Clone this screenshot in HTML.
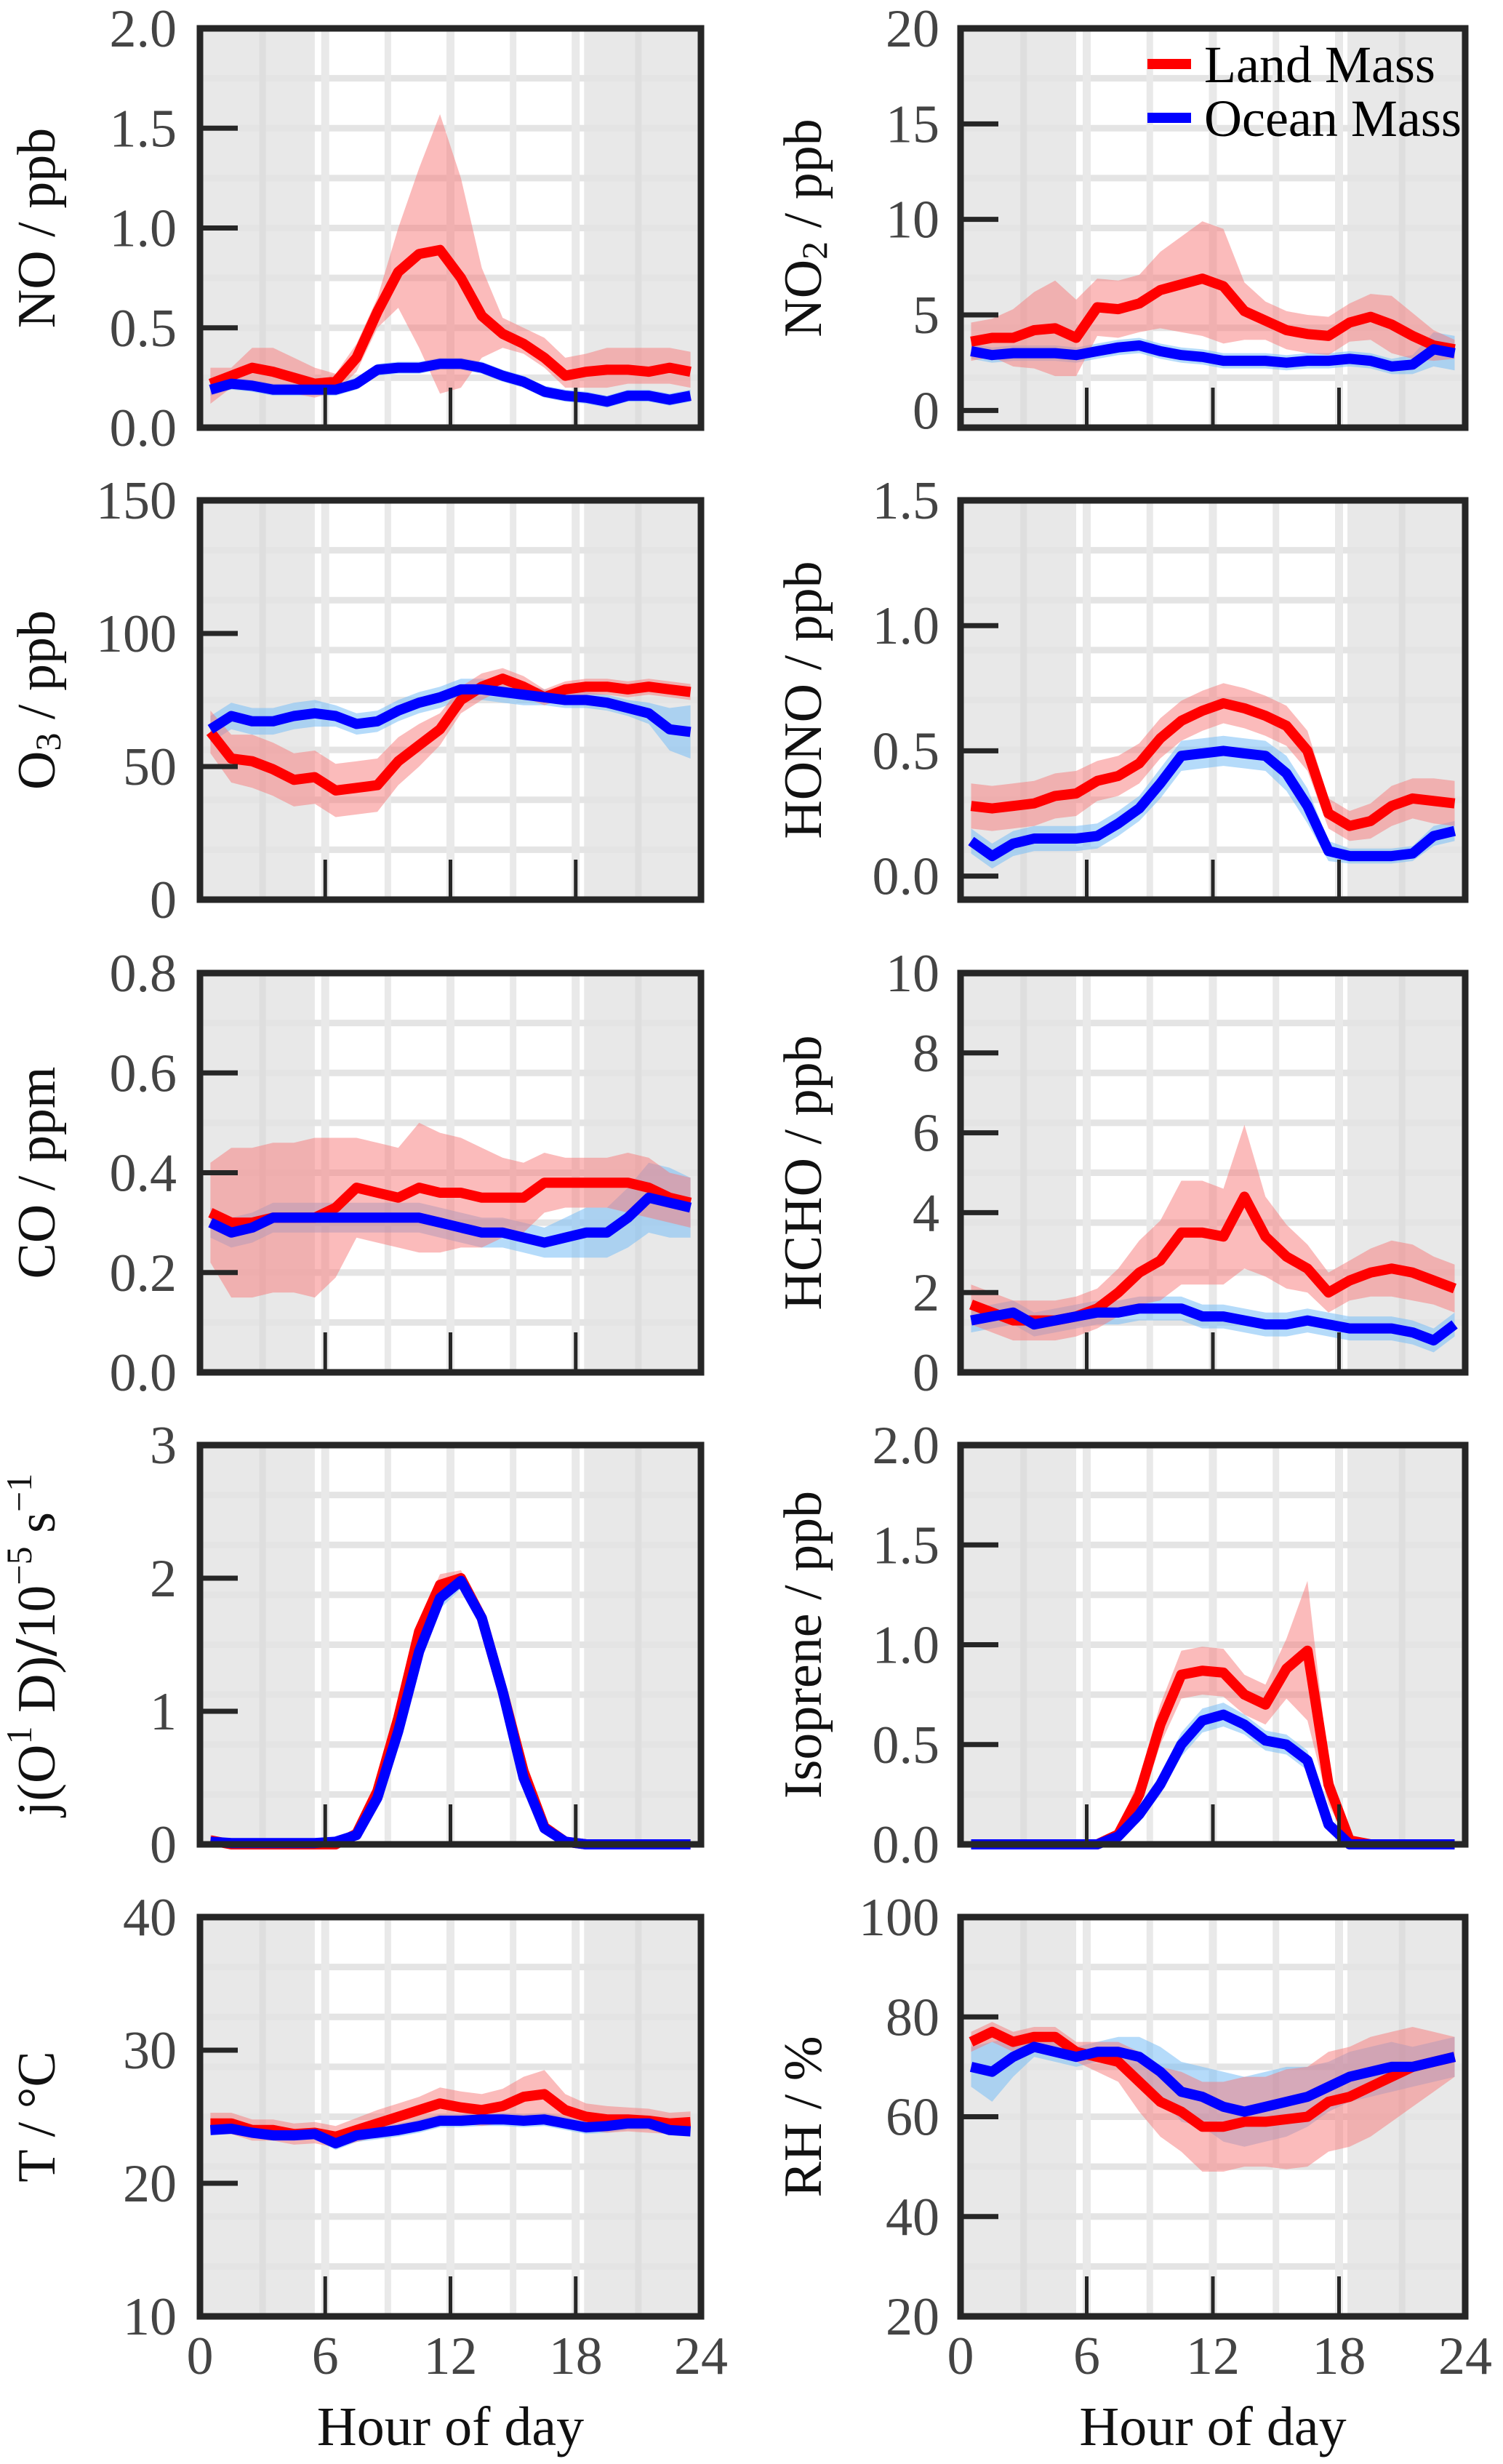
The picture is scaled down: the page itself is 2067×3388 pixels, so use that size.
<!DOCTYPE html>
<html><head><meta charset="utf-8">
<style>
html,body{margin:0;padding:0;background:#fff;}
svg{display:block;}
text{font-family:"Liberation Serif",serif;}
</style></head>
<body>
<svg id="chart" width="2067" height="3388" viewBox="0 0 2067 3388" xmlns="http://www.w3.org/2000/svg"></svg>
<script>
// ---- data (hours 0.5..23.5) ----
const hours = [0.5,1.5,2.5,3.5,4.5,5.5,6.5,7.5,8.5,9.5,10.5,11.5,12.5,13.5,14.5,15.5,16.5,17.5,18.5,19.5,20.5,21.5,22.5,23.5];
const xTicks = [0,6,12,18,24];

const noLand = [0.22,0.26,0.30,0.28,0.25,0.22,0.23,0.35,0.58,0.78,0.87,0.89,0.75,0.56,0.47,0.42,0.35,0.26,0.28,0.29,0.29,0.28,0.30,0.28];
const noLandHi = [0.30,0.30,0.40,0.40,0.35,0.30,0.27,0.42,0.65,1.00,1.30,1.57,1.25,0.80,0.55,0.50,0.45,0.35,0.37,0.40,0.40,0.40,0.40,0.38];
const noLandLo = [0.12,0.20,0.22,0.20,0.17,0.15,0.18,0.28,0.50,0.60,0.40,0.17,0.20,0.35,0.40,0.37,0.30,0.20,0.20,0.20,0.22,0.22,0.22,0.20];
const noOcean = [0.19,0.22,0.21,0.19,0.19,0.19,0.19,0.22,0.29,0.30,0.30,0.32,0.32,0.30,0.26,0.23,0.18,0.16,0.15,0.13,0.16,0.16,0.14,0.16];
const noOceanSpread = [0.03,0.03,0.03,0.03,0.03,0.03,0.03,0.03,0.03,0.03,0.03,0.03,0.03,0.03,0.03,0.03,0.03,0.03,0.03,0.03,0.03,0.03,0.03,0.03];

const no2Land = [3.6,3.8,3.8,4.2,4.3,3.8,5.4,5.3,5.6,6.3,6.6,6.9,6.5,5.2,4.7,4.2,4.0,3.9,4.6,4.9,4.5,3.9,3.4,3.2];
const no2LandSpread = [1.0,1.0,1.5,2.0,2.5,2.0,1.5,1.5,1.5,2.0,2.5,3.0,3.0,1.5,1.0,1.0,1.0,1.0,1.0,1.2,1.5,1.2,0.8,0.5];
const no2Ocean = [3.1,2.9,3.0,3.0,3.0,2.9,3.1,3.3,3.4,3.1,2.9,2.8,2.6,2.6,2.6,2.5,2.6,2.6,2.7,2.6,2.3,2.4,3.2,3.0];
const no2OceanSpread = [0.4,0.4,0.4,0.4,0.4,0.4,0.4,0.4,0.4,0.4,0.4,0.4,0.4,0.4,0.4,0.4,0.4,0.4,0.4,0.4,0.4,0.5,0.9,0.9];

const o3Land = [63,53,52,49,45,46,41,42,43,52,58,64,75,80,83,80,76,79,80,80,79,80,79,78];
const o3LandSpread = [8,9,10,10,10,10,10,10,10,9,8,6,5,5,4,4,3,3,3,3,3,3,3,3];
const o3Ocean = [64,69,67,67,69,70,69,66,67,71,74,76,79,79,78,77,76,75,75,74,72,70,64,63];
const o3OceanSpread = [5,5,5,5,5,5,4,4,4,4,4,4,4,4,4,4,3,3,3,3,3,4,8,10];

const honoLand = [0.28,0.27,0.28,0.29,0.32,0.33,0.38,0.40,0.45,0.55,0.62,0.66,0.69,0.67,0.64,0.60,0.50,0.25,0.20,0.22,0.28,0.31,0.30,0.29];
const honoLandSpread = [0.09,0.09,0.09,0.09,0.09,0.09,0.08,0.08,0.08,0.08,0.08,0.08,0.08,0.08,0.08,0.08,0.08,0.06,0.06,0.07,0.08,0.08,0.09,0.09];
const honoOcean = [0.14,0.08,0.13,0.15,0.15,0.15,0.16,0.21,0.27,0.37,0.48,0.49,0.50,0.49,0.48,0.41,0.28,0.10,0.08,0.08,0.08,0.09,0.16,0.18];
const honoOceanSpread = [0.05,0.05,0.05,0.05,0.05,0.05,0.05,0.05,0.05,0.06,0.06,0.06,0.06,0.06,0.06,0.07,0.07,0.04,0.03,0.03,0.03,0.03,0.04,0.04];

const coLand = [0.32,0.30,0.30,0.31,0.31,0.31,0.33,0.37,0.36,0.35,0.37,0.36,0.36,0.35,0.35,0.35,0.38,0.38,0.38,0.38,0.38,0.37,0.35,0.34];
const coLandSpread = [0.10,0.15,0.15,0.15,0.15,0.16,0.14,0.10,0.10,0.10,0.13,0.12,0.11,0.10,0.08,0.07,0.06,0.05,0.05,0.05,0.06,0.06,0.05,0.05];
const coOcean = [0.30,0.28,0.29,0.31,0.31,0.31,0.31,0.31,0.31,0.31,0.31,0.30,0.29,0.28,0.28,0.27,0.26,0.27,0.28,0.28,0.31,0.35,0.34,0.33];
const coOceanSpread = [0.03,0.03,0.03,0.03,0.03,0.03,0.03,0.03,0.03,0.03,0.03,0.03,0.03,0.03,0.03,0.03,0.03,0.04,0.05,0.05,0.06,0.07,0.07,0.06];

const hchoLand = [1.7,1.5,1.3,1.3,1.3,1.4,1.6,2.0,2.5,2.8,3.5,3.5,3.4,4.4,3.4,2.9,2.6,2.0,2.3,2.5,2.6,2.5,2.3,2.1];
const hchoLandSpread = [0.5,0.5,0.5,0.5,0.5,0.5,0.5,0.6,0.8,1.0,1.3,1.3,1.2,1.8,1.0,0.8,0.6,0.5,0.5,0.6,0.7,0.7,0.6,0.6];
const hchoOcean = [1.3,1.4,1.5,1.2,1.3,1.4,1.5,1.5,1.6,1.6,1.6,1.4,1.4,1.3,1.2,1.2,1.3,1.2,1.1,1.1,1.1,1.0,0.8,1.2];
const hchoOceanSpread = [0.3,0.3,0.3,0.3,0.3,0.3,0.3,0.3,0.3,0.3,0.3,0.3,0.3,0.3,0.3,0.3,0.3,0.3,0.3,0.3,0.3,0.3,0.3,0.3];

const jLand = [0.03,0.0,0.0,0.0,0.0,0.0,0.0,0.08,0.40,0.95,1.60,1.95,2.00,1.70,1.15,0.55,0.13,0.02,0.0,0.0,0.0,0.0,0.0,0.0];
const jLandSpread = [0.04,0.02,0.02,0.02,0.02,0.02,0.02,0.04,0.08,0.08,0.08,0.08,0.06,0.06,0.06,0.06,0.04,0.02,0.02,0.02,0.02,0.02,0.02,0.02];
const jOcean = [0.02,0.01,0.01,0.01,0.01,0.01,0.02,0.07,0.35,0.85,1.45,1.85,1.98,1.70,1.15,0.50,0.12,0.02,0.0,0.0,0.0,0.0,0.0,0.0];
const jOceanSpread = [0.02,0.02,0.02,0.02,0.02,0.02,0.02,0.04,0.08,0.10,0.10,0.08,0.06,0.06,0.06,0.06,0.04,0.02,0.02,0.02,0.02,0.02,0.02,0.02];

const isoLand = [0,0,0,0,0,0,0,0.05,0.25,0.60,0.85,0.87,0.86,0.75,0.70,0.88,0.97,0.30,0.02,0,0,0,0,0];
const isoLandSpread = [0.01,0.01,0.01,0.01,0.01,0.01,0.01,0.03,0.08,0.10,0.12,0.12,0.12,0.10,0.10,0.15,0.35,0.10,0.02,0.01,0.01,0.01,0.01,0.01];
const isoOcean = [0,0,0,0,0,0,0,0.04,0.15,0.30,0.50,0.62,0.65,0.60,0.52,0.50,0.42,0.10,0,0,0,0,0,0];
const isoOceanSpread = [0.01,0.01,0.01,0.01,0.01,0.01,0.01,0.02,0.04,0.05,0.06,0.06,0.06,0.05,0.05,0.05,0.05,0.03,0.01,0.01,0.01,0.01,0.01,0.01];

const tLand = [24.5,24.5,24,24,23.7,23.8,23.5,24,24.5,25,25.5,26,25.7,25.5,25.8,26.5,26.7,25.5,25,24.8,24.8,24.7,24.5,24.6];
const tLandSpread = [0.8,0.8,0.8,0.8,0.8,0.8,0.8,0.9,1.0,1.0,1.0,1.2,1.2,1.2,1.3,1.5,1.8,1.2,1.0,1.0,0.9,0.9,0.8,0.8];
const tOcean = [24,24.1,23.8,23.6,23.6,23.7,23.0,23.6,23.8,24,24.3,24.7,24.7,24.8,24.8,24.7,24.8,24.5,24.2,24.3,24.5,24.5,24,23.9];
const tOceanSpread = [0.4,0.4,0.4,0.4,0.4,0.4,0.5,0.5,0.5,0.5,0.5,0.5,0.5,0.5,0.5,0.5,0.5,0.5,0.5,0.5,0.5,0.5,0.4,0.4];

const rhLand = [75,77,75,76,76,73,72,71,67,63,61,58,58,59,59,59.5,60,63,64,66,68,70,71,72];
const rhLandSpread = [2,2,2,2,2,2,3,4,6,7,8,9,9,9,9,10,10,10,10,10,9,8,6,4];
const rhOcean = [70,69,72,74,73,72,73,73,72,69,65,64,62,61,62,63,64,66,68,69,70,70,71,72];
const rhOceanSpread = [4,6,4,2,2,2,2,3,4,5,6,6,7,7,7,7,6,5,5,5,5,4,4,4];

const panels = [
 {name:'no',col:0,row:0,min:0,max:2.0,ticks:[0.0,0.5,1.0,1.5,2.0],dec:1,land:noLand,landHi:noLandHi,landLo:noLandLo,ocean:noOcean,oceanS:noOceanSpread,title:'NO / ppb'},
 {name:'no2',col:1,row:0,min:-0.9,max:20,ticks:[0,5,10,15,20],dec:0,land:no2Land,landS:no2LandSpread,ocean:no2Ocean,oceanS:no2OceanSpread,title:'NO2'},
 {name:'o3',col:0,row:1,min:0,max:150,ticks:[0,50,100,150],dec:0,land:o3Land,landS:o3LandSpread,ocean:o3Ocean,oceanS:o3OceanSpread,title:'O3'},
 {name:'hono',col:1,row:1,min:-0.094,max:1.5,ticks:[0.0,0.5,1.0,1.5],dec:1,land:honoLand,landS:honoLandSpread,ocean:honoOcean,oceanS:honoOceanSpread,title:'HONO / ppb'},
 {name:'co',col:0,row:2,min:0,max:0.8,ticks:[0.0,0.2,0.4,0.6,0.8],dec:1,land:coLand,landS:coLandSpread,ocean:coOcean,oceanS:coOceanSpread,title:'CO / ppm'},
 {name:'hcho',col:1,row:2,min:0,max:10,ticks:[0,2,4,6,8,10],dec:0,land:hchoLand,landS:hchoLandSpread,ocean:hchoOcean,oceanS:hchoOceanSpread,title:'HCHO / ppb'},
 {name:'jo1d',col:0,row:3,min:0,max:3,ticks:[0,1,2,3],dec:0,land:jLand,landS:jLandSpread,ocean:jOcean,oceanS:jOceanSpread,title:'J'},
 {name:'isoprene',col:1,row:3,min:0,max:2.0,ticks:[0.0,0.5,1.0,1.5,2.0],dec:1,land:isoLand,landS:isoLandSpread,ocean:isoOcean,oceanS:isoOceanSpread,title:'Isoprene / ppb'},
 {name:'temperature',col:0,row:4,min:10,max:40,ticks:[10,20,30,40],dec:0,land:tLand,landS:tLandSpread,ocean:tOcean,oceanS:tOceanSpread,title:'T / °C'},
 {name:'rh',col:1,row:4,min:20,max:100,ticks:[20,40,60,80,100],dec:0,land:rhLand,landS:rhLandSpread,ocean:rhOcean,oceanS:rhOceanSpread,title:'RH / %'}
];

const NS='http://www.w3.org/2000/svg';
const svg=document.getElementById('chart');
function mk(tag,attrs,parent){const e=document.createElementNS(NS,tag);for(const k in attrs)e.setAttribute(k,attrs[k]);(parent||svg).appendChild(e);return e;}

const colX=[[275,964],[1321,2015]];
const rowTop=[39,688,1338,1987,2636];
const PH=549;
const tickLabelRight=[243,1292];
const titleX=[58,1112];

panels.forEach(p=>{
  const [x0,x1]=colX[p.col];
  const y0=rowTop[p.row], y1=y0+PH;
  const g=mk('g',{});
  
  
  const xs=h=>x0+(h/24)*(x1-x0);
  const ys=v=>y1-(v-p.min)/(p.max-p.min)*(y1-y0);
  mk('rect',{x:x0,y:y0,width:x1-x0,height:PH,fill:'#e8e8e8'},g);
  mk('rect',{x:xs(5.5),y:y0,width:xs(18.4)-xs(5.5),height:PH,fill:'#ffffff'},g);
  for(let i=1;i<8;i++){const y=y0+PH*i/8;mk('line',{x1:x0,x2:x1,y1:y,y2:y,stroke:'#e4e4e4','stroke-width':9},g);}
  for(let h=3;h<24;h+=3){const x=xs(h);mk('line',{x1:x,x2:x,y1:y0,y2:y1,stroke:(h<6||h>18)?'#dedede':'#e9e9e9','stroke-width':(h%6===0)?11:9},g);}
  function band(mean,lo,hi,fill,nm){
    let d='';
    mean.forEach((v,i)=>{d+=(i?'L':'M')+xs(hours[i]).toFixed(1)+','+ys(hi[i]).toFixed(1);});
    for(let i=mean.length-1;i>=0;i--)d+='L'+xs(hours[i]).toFixed(1)+','+ys(lo[i]).toFixed(1);
    const e=mk('path',{d:d+'Z',fill:fill},g);
    
    
  }
  function line(mean,color,nm){
    const pts=mean.map((v,i)=>xs(hours[i]).toFixed(1)+','+ys(v).toFixed(1)).join(' ');
    const e=mk('polyline',{points:pts,fill:'none',stroke:color,'stroke-width':14,'stroke-linejoin':'round'},g);
    
    
  }
  const oLo=p.ocean.map((v,i)=>v-p.oceanS[i]), oHi=p.ocean.map((v,i)=>v+p.oceanS[i]);
  const lLo=p.landLo||p.land.map((v,i)=>v-p.landS[i]), lHi=p.landHi||p.land.map((v,i)=>v+p.landS[i]);
  band(p.ocean,oLo,oHi,'rgba(120,190,245,0.55)','ocean-band');
  band(p.land,lLo,lHi,'rgba(248,120,120,0.5)','land-band');
  line(p.land,'#ff0000','land-line');
  line(p.ocean,'#0000ff','ocean-line');
  mk('rect',{x:x0,y:y0,width:x1-x0,height:PH,fill:'none',stroke:'#262626','stroke-width':9},g);
  p.ticks.forEach(t=>{
    const y=ys(t);
    if(t>p.min+1e-9) mk('line',{x1:x0,x2:x0+52,y1:y,y2:y,stroke:'#262626','stroke-width':7},g);
    const tx=mk('text',{x:tickLabelRight[p.col],y:y+25,'text-anchor':'end','font-size':74,fill:'#444'},g);
    tx.textContent=t.toFixed(p.dec);
    
    
  });
  [6,12,18].forEach(h=>{mk('line',{x1:xs(h),x2:xs(h),y1:y1,y2:y1-55,stroke:'#262626','stroke-width':5},g);});
  const cy=(y0+y1)/2;
  const tt=mk('text',{x:titleX[p.col],y:cy,'text-anchor':'middle','font-size':74,fill:'#111',transform:`rotate(-90 ${titleX[p.col]} ${cy})`,'dominant-baseline':'middle'},g);
  
  
  if(p.title==='NO2'){tt.innerHTML='NO<tspan font-size="50" dy="14">2</tspan><tspan dy="-14"> / ppb</tspan>';}
  else if(p.title==='O3'){tt.innerHTML='O<tspan font-size="50" dy="14">3</tspan><tspan dy="-14"> / ppb</tspan>';}
  else if(p.title==='J'){tt.innerHTML='j(O<tspan font-size="50" dy="-26">1</tspan><tspan dy="26"> D)</tspan><tspan font-weight="bold" font-size="84">/</tspan>10<tspan font-size="50" dy="-26">−5</tspan><tspan dy="26"> s</tspan><tspan font-size="50" dy="-26">−1</tspan>';}
  else tt.textContent=p.title;
  if(p.row===4){
    xTicks.forEach(h=>{
      const t=mk('text',{x:xs(h),y:3264,'text-anchor':'middle','font-size':74,fill:'#444'},g);
      t.textContent=h;
      
      
    });
    const xt=mk('text',{x:(x0+x1)/2,y:3362,'text-anchor':'middle','font-size':76,fill:'#111'},g);
    xt.textContent='Hour of day';
    
    
  }
});

const lg=mk('g',{});


mk('line',{x1:1578,x2:1638,y1:88,y2:88,stroke:'#ff0000','stroke-width':14},lg);
const l1=mk('text',{x:1656,y:113,'font-size':72,fill:'#000'},lg);
l1.textContent='Land Mass';


mk('line',{x1:1578,x2:1638,y1:162,y2:162,stroke:'#0000ff','stroke-width':14},lg);
const l2=mk('text',{x:1656,y:187,'font-size':72,fill:'#000'},lg);
l2.textContent='Ocean Mass';


</script>
</body></html>
